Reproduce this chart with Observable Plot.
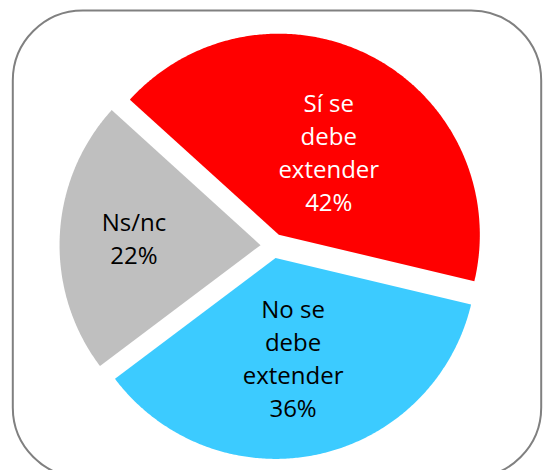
<!DOCTYPE html>
<html>
<head>
<meta charset="utf-8">
<script src="https://cdn.jsdelivr.net/npm/d3@7"></script>
<script src="https://cdn.jsdelivr.net/npm/@observablehq/plot@0.6"></script>
<style>
  html, body { margin: 0; padding: 0; background: #ffffff; }
</style>
</head>
<body>
<div id="chart"></div>
<script>
// ---- data ----
const categories = ["Sí se debe extender", "No se debe extender", "Ns/nc"];
const labelLines = ["Sí se\ndebe\nextender", "No se\ndebe\nextender", "Ns/nc"];
const values = [42, 36, 22];
const colors = ["#FF0000", "#3CCBFF", "#BFBFBF"];
const textColors = ["#FFFFFF", "#000000", "#000000"];

// ---- layout ----
const W = 551, H = 470;
const startDeg = -47.8;          // first slice starts here (clockwise from 12 o'clock)
const explode = 0.062;           // slice offset, in radii
const labelRadius = [0.484, 0.502, 0.631];
const labelTurnDeg = [3.1, 1.8, 1.3];

const rad = Math.PI / 180;
const arcs = d3.pie().sort(null)
  .startAngle(startDeg * rad)
  .endAngle(startDeg * rad + 2 * Math.PI)(values);

const slicePoints = [];
const labels = [];
arcs.forEach((p, i) => {
  const mid = (p.startAngle + p.endAngle) / 2;
  const ox = explode * Math.sin(mid), oy = explode * Math.cos(mid);
  slicePoints.push({k: categories[i], x: ox, y: oy});
  const n = Math.ceil((p.endAngle - p.startAngle) / (Math.PI / 360));
  for (let j = 0; j <= n; j++) {
    const a = p.startAngle + (p.endAngle - p.startAngle) * j / n;
    slicePoints.push({k: categories[i], x: ox + Math.sin(a), y: oy + Math.cos(a)});
  }
  const la = mid + labelTurnDeg[i] * rad;
  labels.push({
    k: categories[i],
    text: labelLines[i] + "\n" + values[i] + "%",
    x: ox + labelRadius[i] * Math.sin(la),
    y: oy + labelRadius[i] * Math.cos(la),
    color: textColors[i]
  });
});

const chart = Plot.plot({
  width: W,
  height: H,
  marginLeft: 71.5,
  marginRight: 77.5,
  marginTop: 44.2,
  marginBottom: 23.8,
  x: {domain: [-1, 1], axis: null},
  y: {domain: [-1, 1], axis: null},
  color: {domain: categories, range: colors},
  style: {fontFamily: "'Open Sans', sans-serif", background: "#ffffff"},
  marks: [
    Plot.frame({rx: 70, ry: 70, stroke: "#808080", strokeWidth: 2,
      insetLeft: -59.2, insetRight: -67.2, insetTop: -34.2, insetBottom: -30.8}),
    Plot.line(slicePoints, {x: "x", y: "y", z: "k", fill: "k", stroke: "none", curve: "linear-closed"}),
    Plot.text(labels.filter(d => d.color === "#FFFFFF"), {x: "x", y: "y", text: "text",
      fill: "#FFFFFF", fontSize: 24, lineHeight: 1.375}),
    Plot.text(labels.filter(d => d.color !== "#FFFFFF"), {x: "x", y: "y", text: "text",
      fill: "#000000", fontSize: 24, lineHeight: 1.375})
  ]
});
document.getElementById("chart").appendChild(chart);
</script>
</body>
</html>
